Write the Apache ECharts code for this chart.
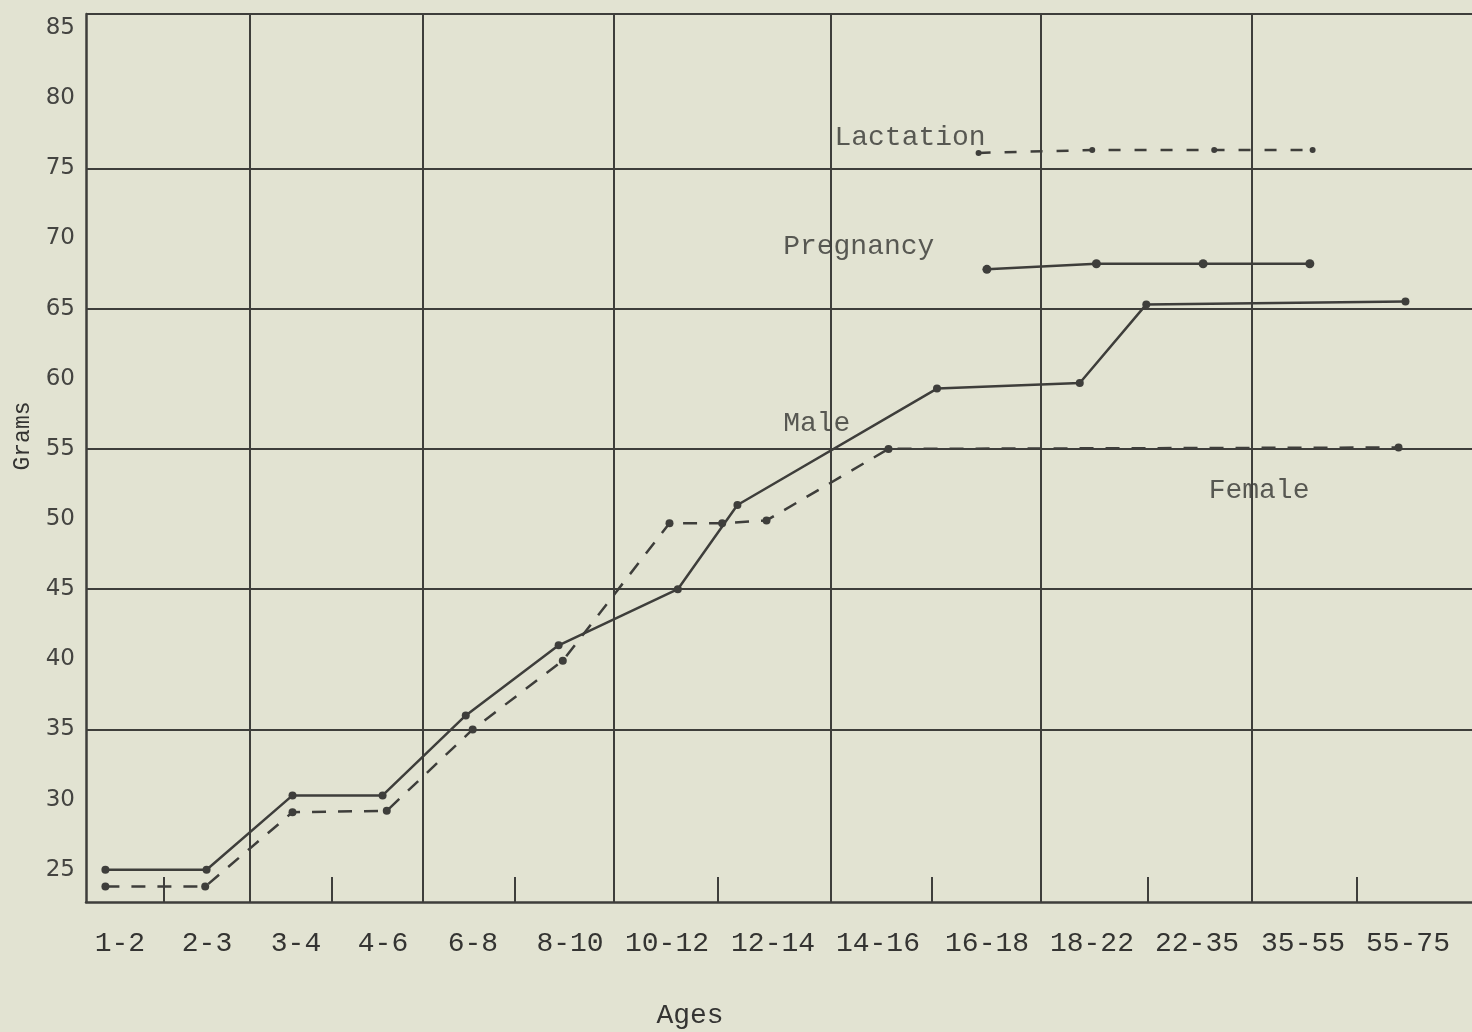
<!DOCTYPE html>
<html>
<head>
    <meta charset="utf-8"/>
    <title>Grams by age</title>
    <script src="https://cdn.jsdelivr.net/npm/echarts@6/dist/echarts.min.js"></script>
    <style>
        html, body { margin: 0; padding: 0; background: #e2e3d2; }
        #main { width: 1472px; height: 1032px; }
    </style>
</head>
<body>
<div id="main"></div>
<script type="text/javascript">
    /* age groups and where the typed labels sit along the axis (0-100) */
    var ageLabels = ['1-2', '2-3', '3-4', '4-6', '6-8', '8-10', '10-12', '12-14',
        '14-16', '16-18', '18-22', '22-35', '35-55', '55-75'];
    var labelPos = [2.45, 8.73, 15.15, 21.43, 27.92, 34.92, 41.92, 49.57,
        57.14, 65.01, 72.58, 80.16, 87.81, 95.38];
    var minorTicks = [5.6, 17.7, 30.9, 45.6, 61.0, 76.6, 91.7];
    var paperLinesX = [11.8, 24.3, 38.1, 53.7, 68.9, 84.1];
    var paperLinesY = [35, 45, 55, 65, 75, 86];
    var gramTicks = [25, 30, 35, 40, 45, 50, 55, 60, 65, 70, 75, 80, 85];

    /* series, x = position along the age axis, y = grams */
    var maleX = [1.4, 8.7, 14.9, 21.4, 27.4, 34.1, 42.7, 47.0, 61.4, 71.7, 76.5, 95.2];
    var maleY = [25.0, 25.0, 30.3, 30.3, 36.0, 41.0, 45.0, 51.0, 59.3, 59.7, 65.3, 65.5];
    var femaleX = [1.4, 8.6, 14.9, 21.7, 27.9, 34.4, 42.1, 45.9, 49.1, 57.9, 94.7];
    var femaleY = [23.8, 23.8, 29.1, 29.2, 35.0, 39.9, 49.7, 49.7, 49.9, 55.0, 55.1];
    var pregnancyX = [65.0, 72.9, 80.6, 88.3];
    var pregnancyY = [67.8, 68.2, 68.2, 68.2];
    var lactationX = [64.4, 72.6, 81.4, 88.5];
    var lactationY = [76.1, 76.3, 76.3, 76.3];

    /* hand lettered notes */
    var noteNames = ['Lactation', 'Pregnancy', 'Male', 'Female'];
    var noteX = [54.0, 50.3, 50.3, 81.0];
    var noteY = [77.2, 69.4, 56.8, 52.0];

    var ink = '#3e3e3b';
    var typeInk = '#343432';
    var typeFont = '"Liberation Mono", "DejaVu Sans Mono", monospace';

    function pairs(xs, ys) {
        var out = [];
        for (var i = 0; i < xs.length; i++) {
            out.push([xs[i], ys[i]]);
        }
        return out;
    }

    var gridLines = [];
    paperLinesX.forEach(function (v) { gridLines.push({xAxis: v}); });
    paperLinesY.forEach(function (v) { gridLines.push({yAxis: v}); });

    var notes = [];
    for (var i = 0; i < noteNames.length; i++) {
        notes.push({name: noteNames[i], value: [noteX[i], noteY[i]]});
    }

    var chart = echarts.init(document.getElementById('main'));
    var option = {
        animation: false,
        backgroundColor: '#e2e3d2',
        grid: {left: 86, right: 0, top: 14, bottom: 130, outerBoundsMode: 'none'},
        xAxis: {
            type: 'value',
            min: 0,
            max: 100,
            name: 'Ages',
            nameLocation: 'middle',
            nameGap: 100,
            nameTextStyle: {
                fontFamily: typeFont, fontSize: 28, color: typeInk,
                padding: [0, 178, 0, 0]
            },
            axisLine: {show: true, lineStyle: {color: ink, width: 2.5}},
            axisTick: {
                show: true, inside: true, length: 25,
                customValues: minorTicks,
                lineStyle: {color: ink, width: 2}
            },
            axisLabel: {
                customValues: labelPos,
                margin: 28,
                fontFamily: typeFont,
                fontSize: 28,
                color: typeInk,
                formatter: function (v) {
                    var best = 0;
                    for (var k = 1; k < labelPos.length; k++) {
                        if (Math.abs(labelPos[k] - v) < Math.abs(labelPos[best] - v)) best = k;
                    }
                    return ageLabels[best];
                }
            },
            splitLine: {show: false}
        },
        yAxis: {
            type: 'value',
            min: 22.7,
            max: 86,
            name: 'Grams',
            nameLocation: 'middle',
            nameGap: 52,
            nameTextStyle: {
                fontFamily: typeFont, fontSize: 23, color: typeInk,
                padding: [0, 0, 0, 44]
            },
            axisLine: {show: true, lineStyle: {color: ink, width: 2.5}},
            axisTick: {show: false},
            axisLabel: {
                customValues: gramTicks,
                margin: 11,
                fontFamily: '"DejaVu Sans", sans-serif',
                fontSize: 23,
                color: '#444441'
            },
            splitLine: {show: false}
        },
        series: [
            {
                /* graph paper rulings */
                name: 'paper',
                type: 'line',
                data: [],
                silent: true,
                markLine: {
                    silent: true,
                    symbol: 'none',
                    label: {show: false},
                    lineStyle: {type: 'solid', color: ink, width: 2},
                    data: gridLines
                }
            },
            {
                name: 'Male',
                type: 'line',
                data: pairs(maleX, maleY),
                symbol: 'circle',
                symbolSize: 8,
                itemStyle: {color: ink},
                lineStyle: {color: ink, width: 2.5}
            },
            {
                name: 'Female',
                type: 'line',
                data: pairs(femaleX, femaleY),
                symbol: 'circle',
                symbolSize: 8,
                itemStyle: {color: ink},
                lineStyle: {color: ink, width: 2.5, type: [14, 12]}
            },
            {
                name: 'Pregnancy',
                type: 'line',
                data: pairs(pregnancyX, pregnancyY),
                symbol: 'circle',
                symbolSize: 9,
                itemStyle: {color: ink},
                lineStyle: {color: ink, width: 2.5}
            },
            {
                name: 'Lactation',
                type: 'line',
                data: pairs(lactationX, lactationY),
                symbol: 'circle',
                symbolSize: 6,
                itemStyle: {color: ink},
                lineStyle: {color: ink, width: 2.5, type: [12, 14]}
            },
            {
                name: 'notes',
                type: 'scatter',
                data: notes,
                symbolSize: 0,
                silent: true,
                label: {
                    show: true,
                    position: 'right',
                    distance: 0,
                    formatter: '{b}',
                    fontFamily: typeFont,
                    fontSize: 28,
                    color: typeInk
                }
            }
        ]
    };
    chart.setOption(option);
    window.onresize = chart.resize;
</script>
</body>
</html>
